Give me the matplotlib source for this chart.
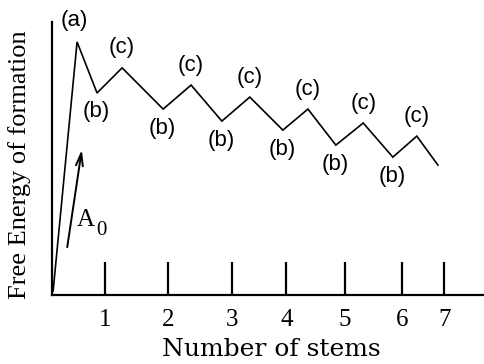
import matplotlib
matplotlib.use("Agg")
import matplotlib.pyplot as plt

# ---- data (schematic values) ----
stem_ticks = [0.93, 2.04, 3.16, 4.11, 5.14, 6.14, 6.88]
stem_labels = ["1", "2", "3", "4", "5", "6", "7"]

path_x = [0.02, 0.44, 0.79, 1.23, 1.95, 2.44, 2.98, 3.47, 4.05, 4.49, 4.98, 5.46, 5.98, 6.40, 6.77]
path_y = [0.15, 9.27, 7.40, 8.32, 6.81, 7.69, 6.37, 7.25, 6.04, 6.81, 5.49, 6.30, 5.05, 5.82, 4.76]
point_labels = ["", "(a)", "(b)", "(c)", "(b)", "(c)", "(b)", "(c)", "(b)", "(c)", "(b)", "(c)", "(b)", "(c)", ""]

arrow_start = (0.26, 1.65)
arrow_end = (0.53, 5.42)
arrow_label = "A"
arrow_sub = "0"

fig = plt.figure(figsize=(4.85, 3.64), dpi=100)
ax = fig.add_axes([52/485, 69/364, 433/485, 273/364])
ax.set_xlim(0, 433/57)
ax.set_ylim(0, 10)

for s in ["top", "right"]:
    ax.spines[s].set_visible(False)
ax.spines["left"].set_linewidth(1.6)
ax.spines["bottom"].set_linewidth(1.6)

ax.plot(path_x, path_y, color="black", lw=1.2, solid_joinstyle="miter", clip_on=False)

offsets = {"(a)": (-3, 21), "(b)": (-1, -19), "(c)": (0, 20)}
for x, y, lab in zip(path_x, path_y, point_labels):
    if lab:
        dx, dy = offsets[lab]
        ax.annotate(lab, (x, y), xytext=(dx, dy), textcoords="offset pixels",
                    ha="center", va="center", fontsize=16, family="Liberation Sans",
                    annotation_clip=False)

ax.annotate("", xy=arrow_end, xytext=arrow_start,
            arrowprops=dict(arrowstyle="->,head_length=0.9,head_width=0.25", lw=1.4, color="black"))
ax.text(arrow_start[0] + 0.33, 2.75, arrow_label, fontsize=18, family="Liberation Serif",
        ha="center", va="center")
ax.text(arrow_start[0] + 0.6, 2.35, arrow_sub, fontsize=15, family="Liberation Serif",
        ha="center", va="center")

ax.set_xticks(stem_ticks)
ax.set_xticklabels(stem_labels, family="Liberation Serif", fontsize=18)
ax.tick_params(axis="x", direction="in", length=24, width=1.6, pad=10)
ax.set_yticks([])

fig.text(0.5 * (160 + 382) / 485, 1 - 350/364, "Number of stems", ha="center", va="center",
         fontsize=18, family="DejaVu Serif")
fig.text(20/485, 1 - 165/364, "Free Energy of formation", ha="center", va="center",
         rotation=90, fontsize=19, family="Liberation Serif")

fig.savefig("out.png", dpi=100)
